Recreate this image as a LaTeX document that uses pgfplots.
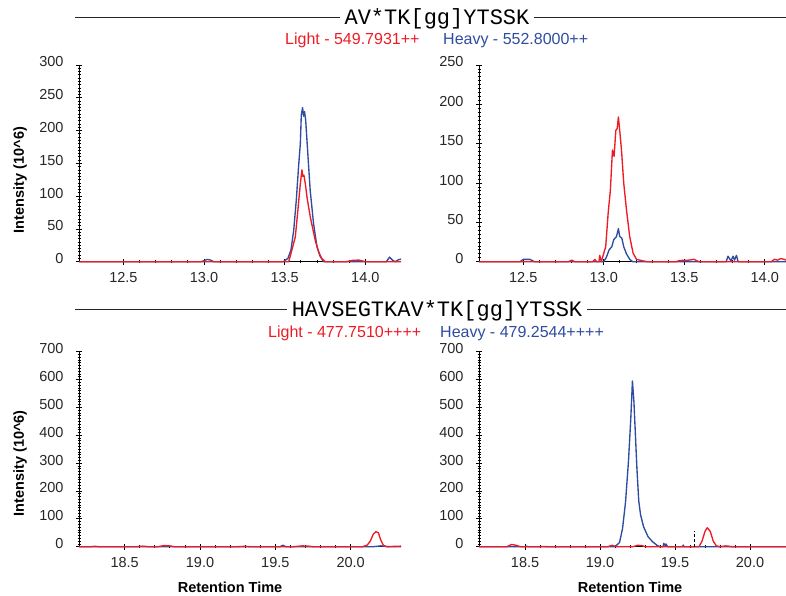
\documentclass[border=0pt]{standalone}
\usepackage{fontspec}
\setmainfont{Liberation Sans}
\newfontfamily\monofont{Liberation Mono}
\usepackage{pgfplots}
\pgfplotsset{compat=1.18}
\definecolor{lightred}{RGB}{237,28,36}
\definecolor{heavyblue}{RGB}{46,76,160}

\pgfplotsset{
  chrom/.style={
    scale only axis, clip=false,
    axis lines=left, axis line style={-, black, line width=0.8pt},
    enlargelimits=false,
    tick align=center,
    major tick length=6pt, minor tick length=3pt,
    tick style={black, line width=0.8pt},
    minor x tick num=4, minor y tick num=9,
    ymin=0,
    tick label style={font=\fontsize{14.5}{16}\selectfont, text=black!85},
    /pgf/number format/assume math mode=true,
    xticklabel style={/pgf/number format/fixed, /pgf/number format/fixed zerofill,
      /pgf/number format/precision=1, yshift=-4pt},
    yticklabel style={xshift=-9pt, yshift=3pt},
    label style={font=\bfseries\fontsize{14.5}{16}\selectfont},
  },
  light/.style={lightred, line width=1.35pt, line join=round},
  heavy/.style={heavyblue, line width=1.35pt, line join=round},
}

\begin{document}
\begin{tikzpicture}
\useasboundingbox (0,0) rectangle (786pt,595pt);

% headers
\draw[line width=0.8pt, black!85] (75pt,577.7pt) -- (786pt,577.7pt);
\node[fill=white, inner xsep=5pt, inner ysep=1pt, anchor=base, font=\monofont\fontsize{22}{24}\selectfont] at (437pt,570.7pt) {AV*TK[gg]YTSSK};
\node[anchor=base west, inner sep=0pt, text=lightred, font=\fontsize{16}{18}\selectfont] at (285pt,550pt) {Light - 549.7931++};
\node[anchor=base west, inner sep=0pt, text=heavyblue, font=\fontsize{16}{18}\selectfont] at (443pt,550pt) {Heavy - 552.8000++};

\draw[line width=0.8pt, black!85] (75pt,286pt) -- (786pt,286pt);
\node[fill=white, inner xsep=5pt, inner ysep=1pt, anchor=base, font=\monofont\fontsize{22}{24}\selectfont] at (437pt,279pt) {HAVSEGTKAV*TK[gg]YTSSK};
\node[anchor=base west, inner sep=0pt, text=lightred, font=\fontsize{16}{18}\selectfont] at (268pt,257.5pt) {Light - 477.7510++++};
\node[anchor=base west, inner sep=0pt, text=heavyblue, font=\fontsize{16}{18}\selectfont] at (440pt,257.5pt) {Heavy - 479.2544++++};

% top left
\begin{axis}[chrom, at={(79pt,333.3pt)}, anchor=south west,
  width=322pt, height=196.7pt,
  xmin=12.225, xmax=14.221, ymax=300,
  xtick={12.5,13.0,13.5,14.0}, ytick={0,50,...,300},
  ylabel={Intensity (10\textasciicircum 6)},
  ylabel style={at={(axis description cs:-0.183,0.415)}, anchor=center},
]
\addplot[heavy] coordinates {(12.225,0) (12.98,0) (13.00,1.5) (13.02,3.5) (13.04,2.5) (13.06,0)
 (13.49,0) (13.52,5) (13.539,18) (13.556,48) (13.572,94) (13.586,145) (13.597,180) (13.603,224)
 (13.611,235) (13.617,222) (13.623,229) (13.630,216) (13.642,170) (13.658,109) (13.679,58)
 (13.700,23) (13.720,8) (13.741,0) (14.13,0) (14.15,7) (14.17,2) (14.185,0) (14.205,3) (14.221,4)};
\addplot[light] coordinates {(12.225,0) (13.525,0) (13.545,18) (13.566,38) (13.582,79) (13.597,119)
 (13.607,140) (13.613,130) (13.619,132) (13.628,119) (13.638,99) (13.658,69) (13.689,33)
 (13.710,15) (13.730,5) (13.751,0) (13.88,0) (13.92,2) (13.96,2.5) (14.0,0) (14.221,0)};
\end{axis}

% top right
\begin{axis}[chrom, at={(479pt,333.3pt)}, anchor=south west,
  width=307pt, height=196.7pt,
  xmin=12.225, xmax=14.132, ymax=250,
  xtick={12.5,13.0,13.5,14.0}, ytick={0,50,...,250},
]
\addplot[heavy] coordinates {(12.225,0) (12.48,0) (12.50,3) (12.54,3) (12.57,0) (13.0,0) (13.017,6)
 (13.033,15) (13.05,19) (13.062,28) (13.079,32) (13.091,42) (13.099,32) (13.112,30) (13.124,19)
 (13.141,10) (13.161,3) (13.18,0) (13.76,0) (13.772,7) (13.79,1) (13.803,7) (13.812,2) (13.824,8)
 (13.835,0) (14.132,0)};
\addplot[light] coordinates {(12.225,0) (12.78,0) (12.80,2) (12.82,0) (12.93,0) (12.945,3) (12.955,0)
 (12.97,0) (12.975,8) (12.985,0) (12.996,8) (13.012,19) (13.027,61) (13.041,91) (13.054,142)
 (13.064,134) (13.075,167) (13.083,169) (13.091,184) (13.099,167) (13.110,142) (13.124,100)
 (13.141,66) (13.161,32) (13.182,11) (13.203,3) (13.244,1) (13.27,0) (13.45,0) (13.47,1.5)
 (13.53,2) (13.56,3) (13.59,0) (14.04,0) (14.06,3) (14.08,2) (14.10,4) (14.12,3) (14.132,2)};
\end{axis}

% bottom left
\begin{axis}[chrom, at={(79pt,48.3pt)}, anchor=south west,
  width=322pt, height=195pt,
  xmin=18.197, xmax=20.334, ymax=700,
  xtick={18.5,19.0,19.5,20.0}, ytick={0,100,...,700},
  ylabel={Intensity (10\textasciicircum 6)},
  ylabel style={at={(axis description cs:-0.183,0.427)}, anchor=center},
  xlabel={Retention Time},
  xlabel style={at={(axis description cs:0.469,-0.207)}, anchor=center},
]
\addplot[heavy] coordinates {(18.197,0) (19.53,0) (19.55,5) (19.57,0) (20.15,0) (20.2,3) (20.25,0) (20.334,0)};
\addplot[light] coordinates {(18.197,0) (18.28,0) (18.30,1.5) (18.33,0) (18.58,0) (18.62,2) (18.66,0)
 (18.72,0) (18.76,4) (18.80,3) (18.83,0) (19.25,0) (19.30,1.5) (19.33,0) (19.62,0) (19.68,3)
 (19.72,2) (19.75,0) (20.08,0) (20.11,6) (20.13,20) (20.15,45) (20.168,54) (20.184,50)
 (20.199,25) (20.217,5) (20.239,0) (20.28,1) (20.334,2)};
\end{axis}

% bottom right
\begin{axis}[chrom, at={(479pt,48.3pt)}, anchor=south west,
  width=307pt, height=195pt,
  xmin=18.193, xmax=20.24, ymax=700,
  xtick={18.5,19.0,19.5,20.0}, ytick={0,100,...,700},
  xlabel={Retention Time},
  xlabel style={at={(axis description cs:0.492,-0.207)}, anchor=center},
]
\addplot[heavy] coordinates {(18.193,0) (18.50,0) (18.51,2) (18.52,0) (19.10,0) (19.13,15) (19.15,65)
 (19.17,160) (19.19,310) (19.205,460) (19.216,595) (19.226,520) (19.236,400) (19.246,280)
 (19.258,165) (19.27,115) (19.29,72) (19.32,36) (19.35,18) (19.38,5) (19.40,0) (19.42,0)
 (19.425,12) (19.435,3) (19.44,10) (19.45,0) (19.55,0) (19.555,6) (19.56,0) (20.24,0)};
\addplot[light] coordinates {(18.193,0) (18.38,0) (18.41,8) (18.44,5) (18.47,0) (18.60,0) (18.62,1)
 (18.65,0) (19.05,0) (19.08,5) (19.11,0) (19.22,0) (19.25,5) (19.28,4) (19.30,0) (19.66,0)
 (19.68,20) (19.70,55) (19.715,68) (19.735,55) (19.755,20) (19.775,3) (19.80,0) (19.84,3)
 (19.88,0) (20.24,0)};
\addplot[black, line width=0.8pt, dash pattern=on 3pt off 2pt] coordinates {(19.628,0) (19.628,56)};
\end{axis}
\end{tikzpicture}
\end{document}
